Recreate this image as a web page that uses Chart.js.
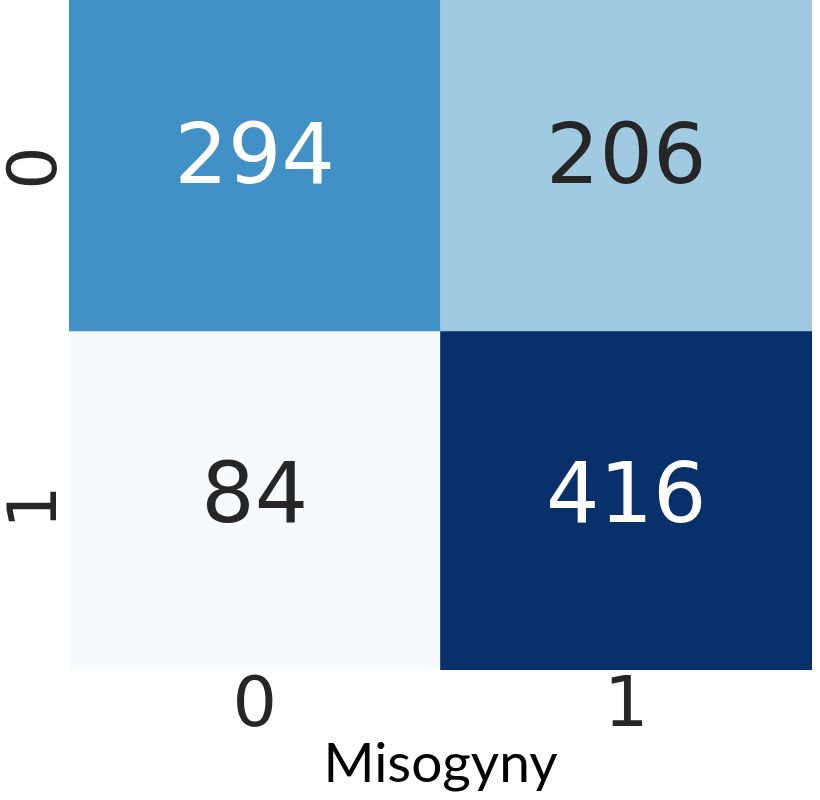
<!DOCTYPE html>
<html>
<head>
<meta charset="utf-8">
<script src="https://cdn.jsdelivr.net/npm/chart.js@4"></script>
<style>
  body { margin: 0; background: #fff; }
  #wrap { width: 820px; height: 800px; }
</style>
</head>
<body>
<div id="wrap"><canvas id="cm" width="820" height="800"></canvas></div>
<script>
// confusion matrix: rows = true label, cols = predicted label
const xLabels = ["0", "1"];
const yLabels = ["0", "1"];
const row0 = [294, 206];
const row1 = [84, 416];
const xTitle = "Misogyny";

// Blues colormap picks for each cell
const row0Colors = ["#4190c6", "#a0cae1"];
const row1Colors = ["#f7fbff", "#08306b"];

const rows = [row0, row1];
const dark = "#262626";

const cellText = {
  id: "cellText",
  afterDatasetsDraw(chart) {
    const { ctx, scales } = chart;
    ctx.save();
    ctx.font = "84px 'DejaVu Sans'";
    ctx.textAlign = "center";
    ctx.textBaseline = "alphabetic";
    rows.forEach((row, r) => {
      row.forEach((v, c) => {
        const x = scales.x.getPixelForValue(c);
        const y = scales.y.getPixelForValue(r);
        ctx.fillStyle = v > 250 ? "#ffffff" : dark;
        ctx.fillText(String(v), x, y + 22);
      });
    });
    ctx.restore();
  }
};

new Chart(document.getElementById("cm"), {
  type: "bar",
  data: {
    labels: xLabels,
    datasets: [
      {
        data: row0.map(() => [-0.5, 0.5]),
        backgroundColor: row0Colors,
        grouped: false,
        barPercentage: 1,
        categoryPercentage: 1,
      },
      {
        data: row1.map(() => [0.5, 1.5]),
        backgroundColor: row1Colors,
        grouped: false,
        barPercentage: 1,
        categoryPercentage: 1,
      },
    ],
  },
  options: {
    responsive: false,
    animation: false,
    layout: { padding: { top: 0, right: 8, left: 0, bottom: 0 } },
    plugins: { legend: { display: false }, tooltip: { enabled: false } },
    scales: {
      x: {
        grid: { display: false },
        border: { display: false },
        ticks: { color: dark, font: { family: "DejaVu Sans", size: 70 }, padding: -12 },
        title: {
          display: true,
          text: xTitle,
          color: "#000",
          font: { family: "Lato", size: 55 },
          padding: { top: 0, bottom: 3 },
        },
        afterFit(scale) {
          scale.height = 130;
          scale.paddingLeft = 0;
          scale.paddingRight = 0;
        },
      },
      y: {
        type: "linear",
        reverse: true,
        min: -0.476,
        max: 1.5,
        grid: { display: false },
        border: { display: false },
        afterBuildTicks(scale) {
          scale.ticks = yLabels.map((_, i) => ({ value: i }));
        },
        ticks: {
          color: dark,
          font: { family: "DejaVu Sans", size: 68 },
          minRotation: 90,
          maxRotation: 90,
          padding: 23,
          labelOffset: -15,
          callback: (v) => yLabels[v],
        },
        afterFit(scale) {
          scale.width = 69;
          scale.paddingTop = 0;
          scale.paddingBottom = 0;
        },
      },
    },
  },
  plugins: [cellText],
});
</script>
</body>
</html>
